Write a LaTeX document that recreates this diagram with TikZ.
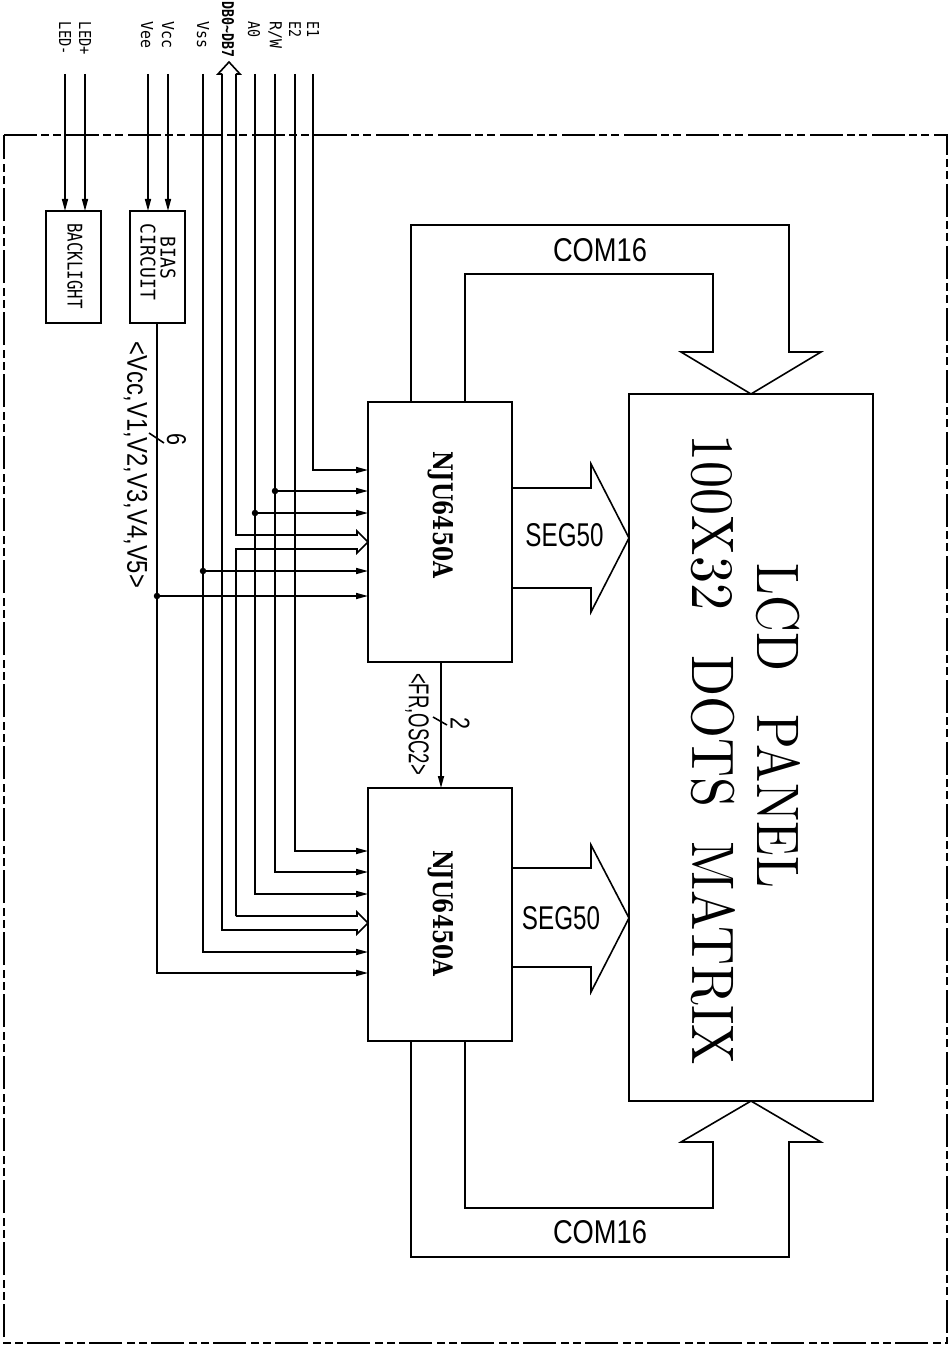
\documentclass[tikz,border=0pt]{standalone}
\usepackage{fontspec}
\newfontfamily\cadfont{DejaVu Sans Mono}
\newfontfamily\thinfont{Liberation Sans}
\newfontfamily\heavyserif{DejaVu Serif}
\usetikzlibrary{arrows.meta}
\newcommand{\fit}[3]{\resizebox{#1pt}{#2pt}{#3}}
\tikzset{
  wire/.style={line width=1.6pt,line join=miter},
  sig/.style={wire,-{Stealth[length=12pt,width=6pt,inset=0pt]}},
  blockbox/.style={draw,line width=1.6pt,rectangle,inner sep=0pt,outer sep=0pt,anchor=north west},
  dotmark/.style={circle,fill=black,inner sep=0pt,minimum size=6.5pt},
  frameline/.style={line width=1.6pt,dash pattern=on 33pt off 4pt on 8pt off 4pt on 8pt off 5pt},
  txt/.style={inner sep=0pt,outer sep=0pt,font=\thinfont},
  rot/.style={txt,rotate=-90},
  pin/.style={inner sep=0pt,outer sep=0pt,font=\cadfont,rotate=-90,anchor=west},
  serif/.style={inner sep=0pt,outer sep=0pt,font=\rmfamily,rotate=-90},
  heavy/.style={inner sep=0pt,outer sep=0pt,font=\heavyserif\bfseries,rotate=-90},
}
\begin{document}
\begin{tikzpicture}[x=1pt,y=-1pt]
\useasboundingbox (0,0) rectangle (949,1348);
\fill[white] (0,0) rectangle (949,1348);
\draw[frameline] (4,135) -- (947,135) -- (947,1343) -- (4,1343) -- cycle;

% blocks
\node[blockbox,minimum width=55pt,minimum height=112pt] (back) at (46,211) {};
\node[blockbox,minimum width=55pt,minimum height=112pt] (bias) at (130,211) {};
\node[blockbox,minimum width=144pt,minimum height=260pt] (ica) at (368,402) {};
\node[blockbox,minimum width=144pt,minimum height=253pt] (icb) at (368,788) {};
\node[blockbox,minimum width=244pt,minimum height=707pt] (lcd) at (629,394) {};

% block texts
\node[rot,font=\cadfont] (tback) at (75,266) {\fit{85}{15}{BACKLIGHT}};
\node[rot,font=\cadfont] (tbias1) at (168,258) {\fit{43}{15}{BIAS}};
\node[rot,font=\cadfont] (tbias2) at (148,262) {\fit{76}{15}{CIRCUIT}};
\node[heavy] (tica) at (441,515) {\fit{126}{20}{NJU6450A}};
\node[heavy] (ticb) at (441,913) {\fit{126}{20}{NJU6450A}};
\node[serif] (tlcda) at (778.5,726) {\fit{324}{43}{LCD\hspace{.5em} PANEL}};
\node[serif] (tlcdb) at (713,750) {\fit{630}{43}{100X32\hspace{.5em} DOTS\hspace{.3em} MATRIX}};

% terminals
\foreach \n/\x in {ledm/65,ledp/85,vee/148,vcc/168,vss/203,dba/222,dbb/236,azero/255,rw/275,etwo/295,eone/313}
  \coordinate (\n) at (\x,74);
\coordinate (dbtip) at (229,62);

\node[pin] (tledp) at (85,22) {\fit{33}{12}{LED+}};
\node[pin] (tledm) at (65,22) {\fit{33}{12}{LED-}};
\node[pin] (tvee) at (147,22) {\fit{27}{12}{Vee}};
\node[pin] (tvcc) at (168,22) {\fit{27}{12}{Vcc}};
\node[pin] (tvss) at (203,22) {\fit{27}{12}{Vss}};
\node[pin] (tdb) at (228,2) {\fit{56}{12}{\bfseries DB0\textasciitilde DB7}};
\node[pin] (tazero) at (254,22) {\fit{16}{12}{A0}};
\node[pin] (trw) at (275,22) {\fit{27}{12}{R/W}};
\node[pin] (tetwo) at (295,22) {\fit{16}{12}{E2}};
\node[pin] (teone) at (313,22) {\fit{16}{12}{E1}};

% backlight and bias inputs
\draw[sig] (ledm) -- (ledm |- back.north);
\draw[sig] (ledp) -- (ledp |- back.north);
\draw[sig] (vee) -- (vee |- bias.north);
\draw[sig] (vcc) -- (vcc |- bias.north);

% DB bus head
\draw[wire] (dba) -- (218,74) -- (dbtip) -- (240,74) -- (dbb);

% signals to IC 1 and IC 2
\draw[sig] (eone) |- (ica.west |- 0,470);
\draw[sig] (etwo) |- (icb.west |- 0,851);
\draw[sig] (rw) |- (icb.west |- 0,872);
\draw[sig] (azero) |- (icb.west |- 0,894);
\draw[sig] (vss) |- (icb.west |- 0,952);

\node[dotmark] (drw) at (275,491) {};
\node[dotmark] (da) at (255,513) {};
\node[dotmark] (dvss) at (203,571) {};
\node[dotmark] (dvcc) at (157,596) {};
\draw[sig] (drw.center) -- (ica.west |- drw);
\draw[sig] (da.center) -- (ica.west |- da);
\draw[sig] (dvss.center) -- (ica.west |- dvss);
\draw[sig] (dvcc.center) -- (ica.west |- dvcc);

% bus into IC 1
\coordinate (tipa) at (368,542);
\draw[wire] (dbb) |- (357,535) -- (357,531) -- (tipa) -- (357,553) -- (357,549) -| (236,916);
% bus into IC 2
\coordinate (tipb) at (368,923);
\draw[wire] (236,916) -- (357,916) -- (357,912) -- (tipb) -- (357,934) -- (357,930) -| (dba);

% bias output
\draw[sig] (bias.south -| dvcc) -- (dvcc.center) |- (icb.west |- 0,973);
\coordinate (ticka) at (149,433);
\coordinate (tickb) at (164,443);
\draw[wire] (ticka) -- (tickb);
\node[rot] (tsix) at (176.5,439) {\fit{12}{19}{6}};
\node[rot] (tvbus) at (135.5,465) {\fit{246}{20}{<Vcc,V1,V2,V3,V4,V5>}};

% link between ICs
\draw[sig] (ica.south -| 441,0) -- (icb.north -| 441,0);
\coordinate (tickc) at (433,717);
\coordinate (tickd) at (447,725);
\draw[wire] (tickc) -- (tickd);
\node[rot] (ttwo) at (460,723) {\fit{12}{19}{2}};
\node[rot] (tfr) at (417,724) {\fit{102}{20}{<FR,OSC2>}};

% COM buses
\draw[wire] (ica.north -| 411,0) -- (411,225) -- (789,225) -- (789,352) -- (821,352) -- (lcd.north -| 751,0) -- (681,352) -- (713,352) -- (713,274) -- (465,274) -- (ica.north -| 465,0);
\draw[wire] (icb.south -| 411,0) -- (411,1257) -- (789,1257) -- (789,1142) -- (821,1142) -- (lcd.south -| 751,0) -- (681,1142) -- (713,1142) -- (713,1208) -- (465,1208) -- (icb.south -| 465,0);
\node[txt] (tcoma) at (600,250) {\fit{94}{23}{COM16}};
\node[txt] (tcomb) at (600,1232) {\fit{94}{23}{COM16}};

% SEG buses
\draw[wire] (ica.east |- 0,488) -- (591,488) -- (591,464) -- (lcd.west |- 0,538) -- (591,612) -- (591,588) -- (ica.east |- 0,588);
\draw[wire] (icb.east |- 0,868) -- (591,868) -- (591,845) -- (lcd.west |- 0,918) -- (591,992) -- (591,967) -- (icb.east |- 0,967);
\node[txt] (tsega) at (564.5,535.5) {\fit{78}{23}{SEG50}};
\node[txt] (tsegb) at (561,918) {\fit{78}{23}{SEG50}};
\end{tikzpicture}
\end{document}
